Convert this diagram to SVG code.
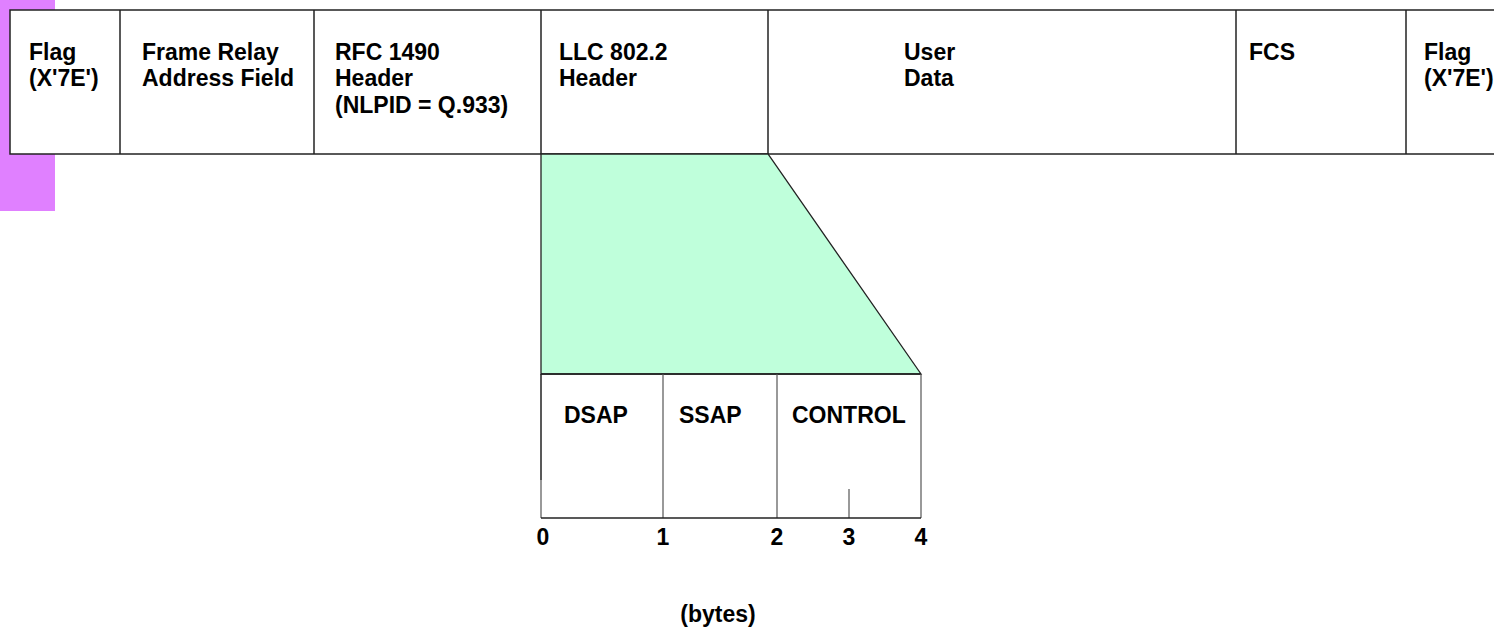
<svg xmlns="http://www.w3.org/2000/svg" width="1494" height="632" viewBox="0 0 1494 632">
  <style>
    .ln { stroke: #222; stroke-width: 1.5; fill: none; }
    .thin { stroke: #555; stroke-width: 1.2; fill: none; }
    .t { font-family: "Liberation Sans", Arial, sans-serif; font-weight: bold; font-size: 23px; fill: #000; }
    .n { font-family: "Liberation Sans", Arial, sans-serif; font-weight: bold; font-size: 23px; fill: #000; text-anchor: middle; }
  </style>

  <!-- side marker, partly covered by the frame -->
  <rect x="0" y="0" width="55" height="211" fill="#e080ff"/>

  <!-- frame relay frame -->
  <g id="frame">
    <rect x="10" y="10" width="1490" height="144" style="fill:#fff; stroke:#222; stroke-width:1.5"/>
  </g>
  <g id="flag-start">
    <text class="t" x="29" y="60">Flag</text>
    <text class="t" x="29" y="86">(X'7E')</text>
  </g>
  <g id="address">
    <line class="ln" x1="120" y1="10" x2="120" y2="154"/>
    <text class="t" x="142" y="60">Frame Relay</text>
    <text class="t" x="142" y="86">Address Field</text>
  </g>
  <g id="rfc1490">
    <line class="ln" x1="314" y1="10" x2="314" y2="154"/>
    <text class="t" x="335" y="60">RFC 1490</text>
    <text class="t" x="335" y="86">Header</text>
    <text class="t" x="335" y="113">(NLPID = Q.933)</text>
  </g>
  <g id="llc">
    <line class="ln" x1="541" y1="10" x2="541" y2="154"/>
    <text class="t" x="559" y="60">LLC 802.2</text>
    <text class="t" x="559" y="86">Header</text>
  </g>
  <g id="userdata">
    <line class="ln" x1="768" y1="10" x2="768" y2="154"/>
    <text class="t" x="904" y="60">User</text>
    <text class="t" x="904" y="86">Data</text>
  </g>
  <g id="fcs">
    <line class="ln" x1="1236" y1="10" x2="1236" y2="154"/>
    <text class="t" x="1249" y="60">FCS</text>
  </g>
  <g id="flag-end">
    <line class="ln" x1="1406" y1="10" x2="1406" y2="154"/>
    <text class="t" x="1424" y="60">Flag</text>
    <text class="t" x="1424" y="86">(X'7E')</text>
  </g>

  <!-- expansion of the LLC header -->
  <g id="connectors">
    <polygon points="541,154 768,154 921,374 541,374" fill="#bfffdb" stroke="#222" stroke-width="1.3"/>
  </g>

  <!-- LLC header fields -->
  <g id="llc-fields">
    <line class="ln" x1="541" y1="374" x2="921" y2="374"/>
    <line class="ln" x1="541" y1="374" x2="541" y2="480"/>
    <line class="thin" x1="541" y1="480" x2="541" y2="518"/>
    <line class="thin" x1="921" y1="374" x2="921" y2="518"/>
    <line class="thin" x1="663" y1="374" x2="663" y2="518"/>
    <line class="thin" x1="777" y1="374" x2="777" y2="518"/>
    <line class="thin" x1="849" y1="489" x2="849" y2="518"/>
    <line class="ln" x1="541" y1="518" x2="921" y2="518"/>
  </g>
  <g id="dsap"><text class="t" x="564" y="423">DSAP</text></g>
  <g id="ssap"><text class="t" x="679" y="423">SSAP</text></g>
  <g id="control"><text class="t" x="792" y="423">CONTROL</text></g>

  <!-- byte scale -->
  <g id="scale">
    <text class="n" x="543" y="545">0</text>
    <text class="n" x="663" y="545">1</text>
    <text class="n" x="777" y="545">2</text>
    <text class="n" x="849" y="545">3</text>
    <text class="n" x="921" y="545">4</text>
    <text class="n" x="718" y="622">(bytes)</text>
  </g>
</svg>
